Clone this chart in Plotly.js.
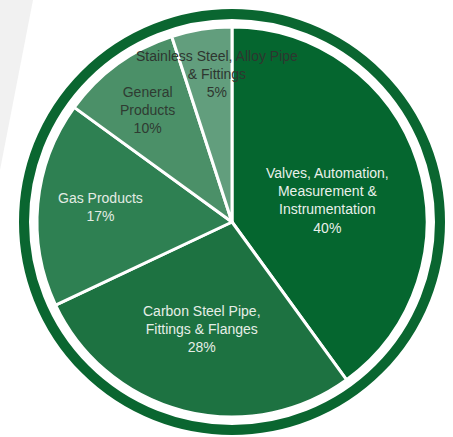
<!DOCTYPE html>
<html>
<head>
<meta charset="utf-8">
<script src="https://cdn.plot.ly/plotly-3.0.1.min.js"></script>
<style>
html,body{margin:0;padding:0;background:#ffffff;}
#chart{width:453px;height:437px;}
</style>
</head>
<body>
<div id="chart"></div>
<script>
// Data
var categories = [
  "Valves, Automation,<br>Measurement &<br>Instrumentation",
  "Carbon Steel Pipe,<br>Fittings & Flanges",
  "Gas Products",
  "General<br>Products",
  "Stainless Steel, Alloy Pipe<br>& Fittings"
];
var shares = [40, 28, 17, 10, 5];

// Styles (not data)
var sliceColors = ["#05662f", "#1d7241", "#2e8052", "#4b9068", "#629e7d"];
var textColors = ["#e9f0ea", "#e6eee7", "#e3ece4", "#2f3b32", "#2e3630"];
var labelPos = [[327, 201], [202, 329], [100, 207], [147, 110], [217, 74]];

var W = 453, H = 437;
var cx = 232, cy = 222, R = 195;

var annotations = categories.map(function (c, i) {
  return {
    xref: "paper", yref: "paper",
    x: labelPos[i][0] / W, y: 1 - labelPos[i][1] / H,
    xanchor: "center", yanchor: "middle",
    text: c + "<br>" + shares[i] + "%",
    showarrow: false,
    align: "center",
    font: {family: "Liberation Sans, Arial, sans-serif", size: 14, color: textColors[i]}
  };
});

var trace = {
  type: "pie",
  values: shares,
  labels: categories,
  sort: false,
  direction: "clockwise",
  rotation: 0,
  textinfo: "none",
  hoverinfo: "label+percent",
  marker: {colors: sliceColors, line: {color: "#ffffff", width: 3}},
  domain: {x: [(cx - R) / W, (cx + R) / W], y: [1 - (cy + R) / H, 1 - (cy - R) / H]},
  showlegend: false
};

var ringR = 208;
var layout = {
  width: W, height: H,
  margin: {l: 0, r: 0, t: 0, b: 0},
  paper_bgcolor: "#ffffff",
  showlegend: false,
  annotations: annotations,
  shapes: [
    {
      type: "path", xref: "paper", yref: "paper", layer: "below",
      path: "M 0 1 L " + (33 / W) + " 1 L 0 " + (1 - 170 / H) + " Z",
      fillcolor: "#f1f1f1", line: {width: 0}
    },
    {
      type: "circle", xref: "paper", yref: "paper", layer: "above",
      x0: (cx - ringR) / W, x1: (cx + ringR) / W,
      y0: 1 - (cy + ringR) / H, y1: 1 - (cy - ringR) / H,
      line: {color: "#0a6630", width: 10},
      fillcolor: "rgba(0,0,0,0)"
    }
  ]
};

Plotly.newPlot("chart", [trace], layout, {displayModeBar: false, staticPlot: true});
</script>
</body>
</html>
